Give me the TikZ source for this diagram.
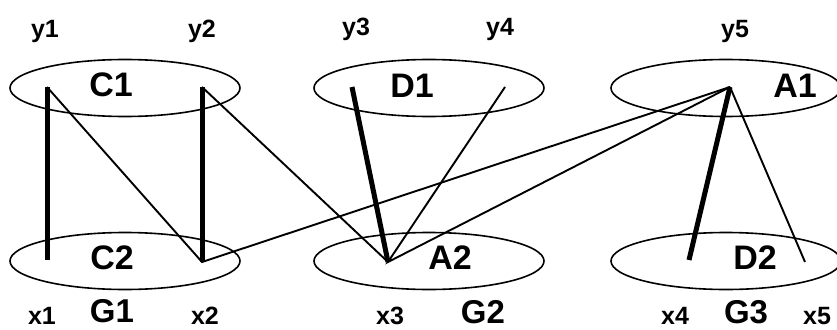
\documentclass[tikz,border=0pt]{standalone}
\usepackage{fontspec}
\setmainfont{Liberation Sans}
\usepackage{tikz}
\usetikzlibrary{shapes.geometric, positioning}
\tikzset{
	set/.style     ={ellipse, draw=black, line width=1.6pt, minimum width=230pt, minimum height=57pt, inner sep=0pt},
	setname/.style ={font=\bfseries\fontsize{34}{37}\selectfont, inner sep=0pt},
	grpname/.style ={font=\bfseries\fontsize{33}{36}\selectfont, inner sep=0pt},
	vname/.style   ={font=\bfseries\fontsize{25}{28}\selectfont, inner sep=0pt},
	% edge styles
	light/.style   ={line width=1.9pt},
	heavy/.style   ={line width=5pt},
}
\begin{document}
\begin{tikzpicture}[x=1pt, y=-1pt]
			\useasboundingbox (0,0) rectangle (837,329);
			% sets
			\node[set] (C1) at (125,88) {}; \node[set] (C2) at (125,261) {};
			\node[set] (D1) at (429,88) {}; \node[set] (A2) at (429,261) {};
			\node[set] (A1) at (726,88) {}; \node[set] (D2) at (726,261) {};
			\node[setname] at (111,85) {C1}; \node[setname] at (112,258) {C2};
			\node[setname] at (412,86) {D1}; \node[setname] at (450,258) {A2};
			\node[setname] at (795,86) {A1}; \node[setname] at (755,258) {D2};
			% vertices
			\coordinate (y1) at (47,87);  \coordinate (x1) at (47,260);
			\coordinate (y2) at (202,87); \coordinate (x2) at (202,262);
			\coordinate (y3) at (352,87); \coordinate (y4) at (505,87);
			\coordinate (x3) at (388,262);
			\coordinate (y5) at (730,87); \coordinate (x4) at (689,260);
			\coordinate (x5) at (805,262);
			\node[vname] at (45,31) {y1};  \node[vname] at (202,31) {y2};
			\node[vname] at (356,29) {y3}; \node[vname] at (500,29) {y4};
			\node[vname] at (735,31) {y5};
			\node[vname] at (42,316) {x1};  \node[vname] at (205,316) {x2};
			\node[vname] at (390,316) {x3}; \node[vname] at (675,316) {x4};
			\node[vname] at (817,316) {x5};
			\node[grpname] at (112,311) {G1}; \node[grpname] at (483,312) {G2};
			\node[grpname] at (746,312) {G3};
			% edges
			\draw[heavy] (y1) -- (x1); \draw[heavy] (y2) -- (x2);
			\draw[heavy] (y3) -- (x3); \draw[heavy] (y5) -- (x4);
			\draw[light] (y1) -- (x2) -- (y5); \draw[light] (y2) -- (x3);
			\draw[light] (y4) -- (x3) -- (y5); \draw[light] (y5) -- (x5);
		\end{tikzpicture}
\end{document}
